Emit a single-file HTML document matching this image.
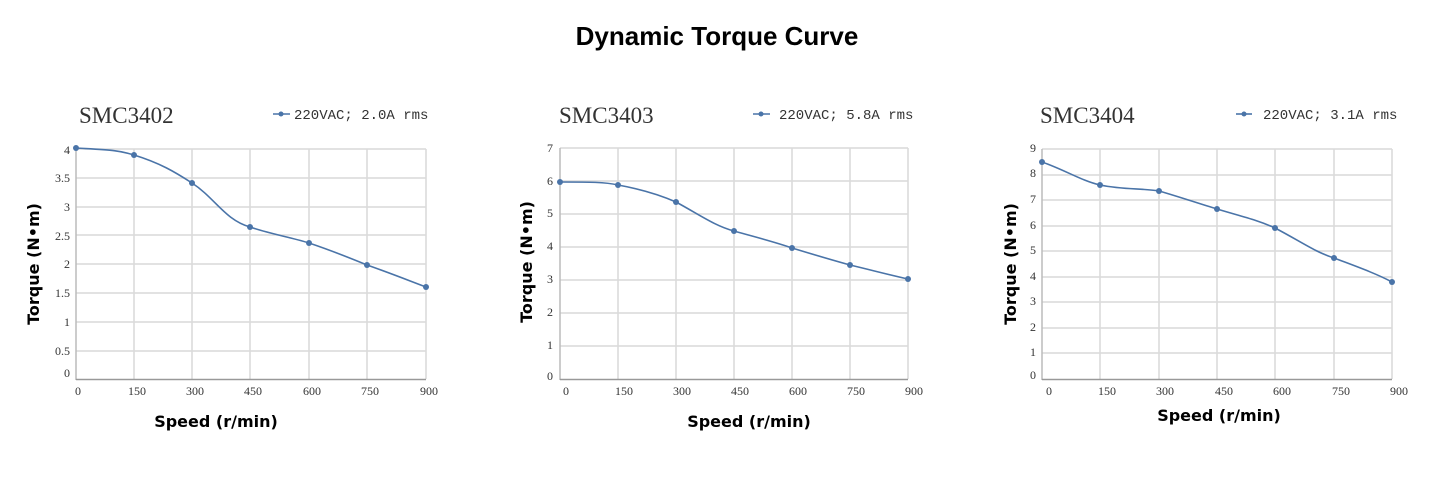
<!DOCTYPE html>
<html><head><meta charset="utf-8"><style>
html,body{margin:0;padding:0;background:#fff;}
svg{display:block}
.t{font-family:"Liberation Serif","Noto Serif CJK SC",serif;font-size:12px;fill:#333}
.ti{font-family:"Liberation Serif",serif;font-size:23px;fill:#333}
.lg{font-family:"Liberation Mono","Liberation Serif",monospace;font-size:14px;fill:#333}
.ax{font-family:"DejaVu Sans","Liberation Sans",sans-serif;font-size:16px;font-weight:bold;fill:#000}
.g{stroke:#d9d9d9;stroke-width:1.5}
.s{stroke:#4a74a8;stroke-width:1.6;fill:none}
.d{fill:#4a74a8}
</style></head><body>
<svg width="1435" height="480" viewBox="0 0 1435 480">
<text x="717" y="45" text-anchor="middle" style="font-family:'Liberation Sans','DejaVu Sans',sans-serif;font-size:26px;font-weight:bold">Dynamic Torque Curve</text>

<!-- Chart 1 -->
<g>
<text class="ti" x="79" y="123">SMC3402</text>
<line x1="273" y1="114" x2="290" y2="114" class="s"/><circle cx="281" cy="114" r="2.5" class="d"/>
<text class="lg" x="294" y="119">220VAC; 2.0A rms</text>
<g class="g">
<line x1="76" y1="149" x2="426" y2="149"/><line x1="76" y1="178" x2="426" y2="178"/><line x1="76" y1="207" x2="426" y2="207"/><line x1="76" y1="235" x2="426" y2="235"/><line x1="76" y1="264" x2="426" y2="264"/><line x1="76" y1="293" x2="426" y2="293"/><line x1="76" y1="322" x2="426" y2="322"/><line x1="76" y1="351" x2="426" y2="351"/>
<line x1="134" y1="149" x2="134" y2="379"/><line x1="192" y1="149" x2="192" y2="379"/><line x1="250" y1="149" x2="250" y2="379"/><line x1="309" y1="149" x2="309" y2="379"/><line x1="367" y1="149" x2="367" y2="379"/><line x1="426" y1="149" x2="426" y2="379"/>
</g>
<line x1="76" y1="149" x2="76" y2="380" stroke="#bbb" stroke-width="1.5"/>
<line x1="76" y1="379.5" x2="426" y2="379.5" stroke="#999" stroke-width="1.5"/>
<g class="t" text-anchor="end">
<text x="70" y="154">4</text><text x="70" y="182">3.5</text><text x="70" y="211">3</text><text x="70" y="240">2.5</text><text x="70" y="268">2</text><text x="70" y="297">1.5</text><text x="70" y="326">1</text><text x="70" y="355">0.5</text><text x="70" y="377">0</text>
</g>
<g class="t" text-anchor="middle">
<text x="78" y="395">0</text><text x="137" y="395">150</text><text x="195" y="395">300</text><text x="253" y="395">450</text><text x="312" y="395">600</text><text x="370" y="395">750</text><text x="429" y="395">900</text>
</g>
<path class="s" d="M76,148 C110,150 118,150 134,155 C160,163 175,172 192,183 C215,198 225,220 250,227 C270,234 290,237 309,243 C330,250 350,258 367,265 C390,273 410,281 426,287"/>
<g class="d"><circle cx="76" cy="148" r="3"/><circle cx="134" cy="155" r="3"/><circle cx="192" cy="183" r="3"/><circle cx="250" cy="227" r="3"/><circle cx="309" cy="243" r="3"/><circle cx="367" cy="265" r="3"/><circle cx="426" cy="287" r="3"/></g>
<text class="ax" x="216" y="427" text-anchor="middle">Speed (r/min)</text>
<text class="ax" transform="translate(39,264) rotate(-90)" text-anchor="middle">Torque (N•m)</text>
</g>

<!-- Chart 2 -->
<g>
<text class="ti" x="559" y="123">SMC3403</text>
<line x1="753" y1="114" x2="770" y2="114" class="s"/><circle cx="761" cy="114" r="2.5" class="d"/>
<text class="lg" x="779" y="119">220VAC; 5.8A rms</text>
<g class="g">
<line x1="560" y1="148" x2="908" y2="148"/><line x1="560" y1="181" x2="908" y2="181"/><line x1="560" y1="214" x2="908" y2="214"/><line x1="560" y1="247" x2="908" y2="247"/><line x1="560" y1="280" x2="908" y2="280"/><line x1="560" y1="313" x2="908" y2="313"/><line x1="560" y1="346" x2="908" y2="346"/>
<line x1="618" y1="148" x2="618" y2="379"/><line x1="676" y1="148" x2="676" y2="379"/><line x1="734" y1="148" x2="734" y2="379"/><line x1="792" y1="148" x2="792" y2="379"/><line x1="850" y1="148" x2="850" y2="379"/><line x1="908" y1="148" x2="908" y2="379"/>
</g>
<line x1="560" y1="148" x2="560" y2="380" stroke="#bbb" stroke-width="1.5"/>
<line x1="560" y1="379.5" x2="908" y2="379.5" stroke="#999" stroke-width="1.5"/>
<g class="t" text-anchor="end">
<text x="553" y="152">7</text><text x="553" y="185">6</text><text x="553" y="217">5</text><text x="553" y="250">4</text><text x="553" y="283">3</text><text x="553" y="316">2</text><text x="553" y="349">1</text><text x="553" y="380">0</text>
</g>
<g class="t" text-anchor="middle">
<text x="566" y="395">0</text><text x="624" y="395">150</text><text x="682" y="395">300</text><text x="740" y="395">450</text><text x="798" y="395">600</text><text x="856" y="395">750</text><text x="914" y="395">900</text>
</g>
<path class="s" d="M560,182 C590,182 605,182 618,185 C640,189 660,195 676,202 C700,215 715,226 734,231 C755,237 775,242 792,248 C815,255 832,260 850,265 C875,271 890,275 908,279"/>
<g class="d"><circle cx="560" cy="182" r="3"/><circle cx="618" cy="185" r="3"/><circle cx="676" cy="202" r="3"/><circle cx="734" cy="231" r="3"/><circle cx="792" cy="248" r="3"/><circle cx="850" cy="265" r="3"/><circle cx="908" cy="279" r="3"/></g>
<text class="ax" x="749" y="427" text-anchor="middle">Speed (r/min)</text>
<text class="ax" transform="translate(532,262) rotate(-90)" text-anchor="middle">Torque (N•m)</text>
</g>

<!-- Chart 3 -->
<g>
<text class="ti" x="1040" y="123">SMC3404</text>
<line x1="1236" y1="114" x2="1252" y2="114" class="s"/><circle cx="1244" cy="114" r="2.5" class="d"/>
<text class="lg" x="1263" y="119">220VAC; 3.1A rms</text>
<g class="g">
<line x1="1042" y1="149" x2="1392" y2="149"/><line x1="1042" y1="175" x2="1392" y2="175"/><line x1="1042" y1="200" x2="1392" y2="200"/><line x1="1042" y1="226" x2="1392" y2="226"/><line x1="1042" y1="251" x2="1392" y2="251"/><line x1="1042" y1="277" x2="1392" y2="277"/><line x1="1042" y1="302" x2="1392" y2="302"/><line x1="1042" y1="328" x2="1392" y2="328"/><line x1="1042" y1="353" x2="1392" y2="353"/>
<line x1="1100" y1="149" x2="1100" y2="379"/><line x1="1159" y1="149" x2="1159" y2="379"/><line x1="1217" y1="149" x2="1217" y2="379"/><line x1="1275" y1="149" x2="1275" y2="379"/><line x1="1334" y1="149" x2="1334" y2="379"/><line x1="1392" y1="149" x2="1392" y2="379"/>
</g>
<line x1="1042" y1="149" x2="1042" y2="380" stroke="#bbb" stroke-width="1.5"/>
<line x1="1042" y1="379.5" x2="1392" y2="379.5" stroke="#999" stroke-width="1.5"/>
<g class="t" text-anchor="end">
<text x="1036" y="152">9</text><text x="1036" y="177">8</text><text x="1036" y="203">7</text><text x="1036" y="229">6</text><text x="1036" y="254">5</text><text x="1036" y="280">4</text><text x="1036" y="305">3</text><text x="1036" y="331">2</text><text x="1036" y="356">1</text><text x="1036" y="379">0</text>
</g>
<g class="t" text-anchor="middle">
<text x="1049" y="395">0</text><text x="1107" y="395">150</text><text x="1165" y="395">300</text><text x="1224" y="395">450</text><text x="1282" y="395">600</text><text x="1341" y="395">750</text><text x="1399" y="395">900</text>
</g>
<path class="s" d="M1042,162 C1065,170 1082,181 1100,185 C1125,190 1140,188 1159,191 C1180,197 1197,203 1217,209 C1240,216 1258,220 1275,228 C1300,241 1315,252 1334,258 C1355,266 1375,273 1392,282"/>
<g class="d"><circle cx="1042" cy="162" r="3"/><circle cx="1100" cy="185" r="3"/><circle cx="1159" cy="191" r="3"/><circle cx="1217" cy="209" r="3"/><circle cx="1275" cy="228" r="3"/><circle cx="1334" cy="258" r="3"/><circle cx="1392" cy="282" r="3"/></g>
<text class="ax" x="1219" y="421" text-anchor="middle">Speed (r/min)</text>
<text class="ax" transform="translate(1016,264) rotate(-90)" text-anchor="middle">Torque (N•m)</text>
</g>
</svg>
</body></html>
